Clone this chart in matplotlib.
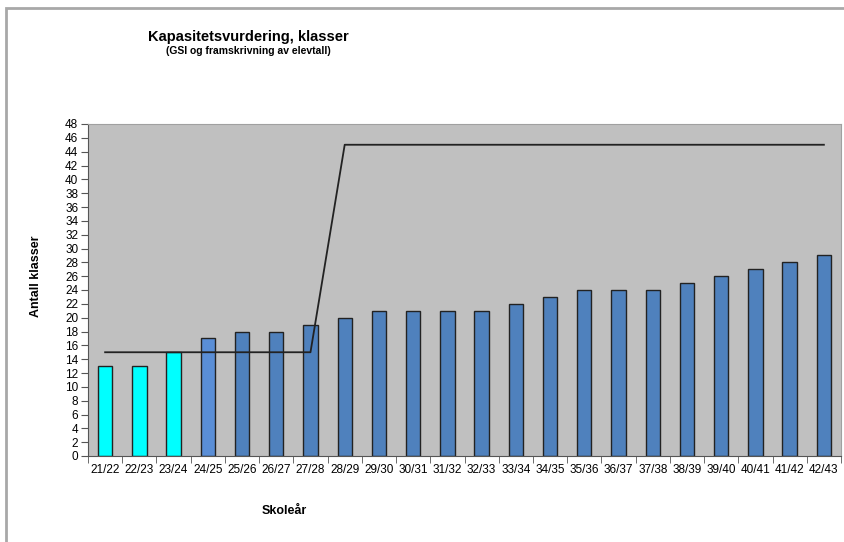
import numpy as np
import matplotlib
matplotlib.use('Agg')
import matplotlib.pyplot as plt
from matplotlib.patches import Rectangle

plt.rcParams['font.family'] = ['Liberation Sans', 'DejaVu Sans']

skolear = ['21/22', '22/23', '23/24', '24/25', '25/26', '26/27', '27/28', '28/29',
           '29/30', '30/31', '31/32', '32/33', '33/34', '34/35', '35/36', '36/37',
           '37/38', '38/39', '39/40', '40/41', '41/42', '42/43']
klasser = [13, 13, 15, 17, 18, 18, 19, 20, 21, 21, 21, 21, 22, 23, 24, 24, 24, 25,
           26, 27, 28, 29]
kapasitet = [15, 15, 15, 15, 15, 15, 15, 45, 45, 45, 45, 45, 45, 45, 45, 45, 45, 45,
             45, 45, 45, 45]
# faktiske år i cyan, prognose i blått
farger = ['#00FFFF'] * 3 + ['#5A8ED6'] + ['#4F81BD'] * 18

fig = plt.figure(figsize=(8.44, 5.42), dpi=100)
# ramme rundt hele diagrammet
fig.patches.append(Rectangle((6 / 844, -0.05), 1.1, 1 - 8 / 542 + 0.05,
                             transform=fig.transFigure, fill=False,
                             edgecolor='#A8A8A8', lw=2))

ax = fig.add_axes([88 / 844, 1 - 456 / 542, (841 - 88) / 844, (456 - 124) / 542])
ax.set_facecolor('#C0C0C0')

x = np.arange(len(skolear))
ax.bar(x, klasser, width=0.42, color=farger, edgecolor='#222222', linewidth=1.0, zorder=2)
ax.plot(x, kapasitet, color='#222222', lw=1.3, zorder=3)

ax.set_xlim(-0.5, len(skolear) - 0.5)
ax.set_ylim(0, 48)
ax.set_yticks(np.arange(0, 49, 2))
ax.tick_params(axis='y', direction='out', length=5, color='#555555', labelsize=8.5, pad=2)

ax.set_xticks(x)
ax.set_xticklabels(skolear, fontsize=8.5)
ax.set_xticks(np.arange(-0.5, len(skolear), 1), minor=True)
ax.tick_params(axis='x', which='major', length=0, pad=6)
ax.tick_params(axis='x', which='minor', direction='out', length=5, color='#555555')

for side in ['top', 'right']:
    ax.spines[side].set_color('#A0A0A0')
for side in ['left', 'bottom']:
    ax.spines[side].set_color('#555555')

ax.set_ylabel('Antall klasser', fontsize=9, fontweight='bold', labelpad=0)
ax.yaxis.set_label_coords(-46 / 753, 0.54)
ax.set_xlabel('Skoleår', fontsize=9, fontweight='bold')
ax.xaxis.set_label_coords((284 - 88) / 753, -(505 - 456) / 332)

fig.text(248 / 844, 1 - 37 / 542, 'Kapasitetsvurdering, klasser', ha='center', va='center',
         fontsize=10.5, fontweight='bold')
fig.text(248 / 844, 1 - 51 / 542, '(GSI og framskrivning av elevtall)', ha='center',
         va='center', fontsize=7.5, fontweight='bold')

fig.savefig('out.png', dpi=100)
